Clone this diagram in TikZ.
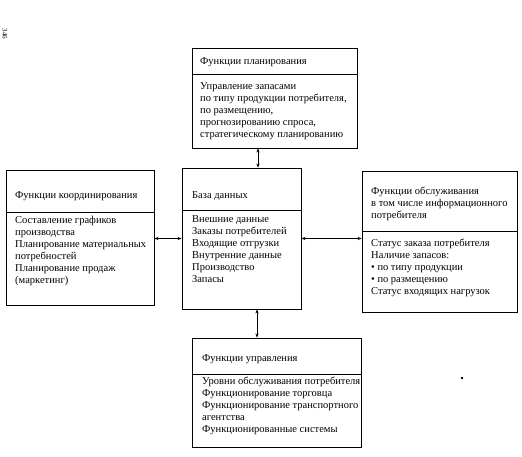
\documentclass[tikz,border=0pt]{standalone}
\usepackage{fontspec}
\setmainfont{Liberation Serif}
\usetikzlibrary{arrows.meta,calc}
\begin{document}
\begin{tikzpicture}[x=1pt,y=-1pt,
  box/.style={draw, line width=0.9pt, inner sep=0pt, rectangle},
  sep/.style={line width=0.8pt},
  txt/.style={anchor=north west, inner sep=0pt, align=left, font=\fontsize{10.5}{12}\selectfont},
  ttl/.style={txt},
  link/.style={line width=0.8pt, {Stealth[length=4pt,width=3.2pt]}-{Stealth[length=4pt,width=3.2pt]}}]
\useasboundingbox (0,0) rectangle (522,457);

% boxes
\node[box, minimum width=165pt, minimum height=100pt] (top) at (274.5,98) {};
\node[box, minimum width=148pt, minimum height=135pt] (left) at (80,237.5) {};
\node[box, minimum width=119pt, minimum height=141pt] (db) at (241.5,238.5) {};
\node[box, minimum width=155pt, minimum height=141pt] (right) at (439.5,241.5) {};
\node[box, minimum width=169pt, minimum height=109pt] (bot) at (276.5,392.5) {};

% separators
\draw[sep] (top.west |- 0,74) -- (top.east |- 0,74);
\draw[sep] (left.west |- 0,212) -- (left.east |- 0,212);
\draw[sep] (db.west |- 0,210) -- (db.east |- 0,210);
\draw[sep] (right.west |- 0,231) -- (right.east |- 0,231);
\draw[sep] (bot.west |- 0,374) -- (bot.east |- 0,374);

% texts
\node[ttl] (topT) at (200,57.5) {Функции планирования};
\node[txt] (topB) at (200,82.5) {Управление запасами\\по типу продукции потребителя,\\по размещению,\\прогнозированию спроса,\\стратегическому планированию};

\node[ttl] (leftT) at (15,191.5) {Функции координирования};
\node[txt] (leftB) at (15,216.5) {Составление графиков\\производства\\Планирование материальных\\потребностей\\Планирование продаж\\(маркетинг)};

\node[txt] (dbT) at (192,191.5) {База данных};
\node[txt] (dbB) at (192,215.5) {Внешние данные\\Заказы потребителей\\Входящие отгрузки\\Внутренние данные\\Производство\\Запасы};

\node[txt] (rightT) at (371,186.5) {Функции обслуживания\\в том числе информационного\\потребителя};
\node[txt] (rightB) at (371,238.5) {Статус заказа потребителя\\Наличие запасов:\\• по типу продукции\\• по размещению\\Статус входящих нагрузок};

\node[ttl] (botT) at (202,354.5) {Функции управления};
\node[txt] (botB) at (202,376.5) {Уровни обслуживания потребителя\\Функционирование торговца\\Функционирование транспортного\\агентства\\Функционированные системы};

% connectors
\coordinate (vx) at ([xshift=16.5pt]db.north);
\coordinate (vy) at ([xshift=15.5pt]db.south);
\draw[link] (vx) -- (vx |- top.south);
\draw[link] (vy) -- (vy |- bot.north);
\draw[link] (left.east |- db.west) -- (db.west);
\draw[link] (db.east) -- (right.west |- db.east);

% page number and speck
\node[inner sep=0pt, rotate=-90, font=\fontsize{7}{8}\selectfont] (pg) at (5,34) {346};
\fill (462,378) circle (1.3pt);
\end{tikzpicture}
\end{document}
